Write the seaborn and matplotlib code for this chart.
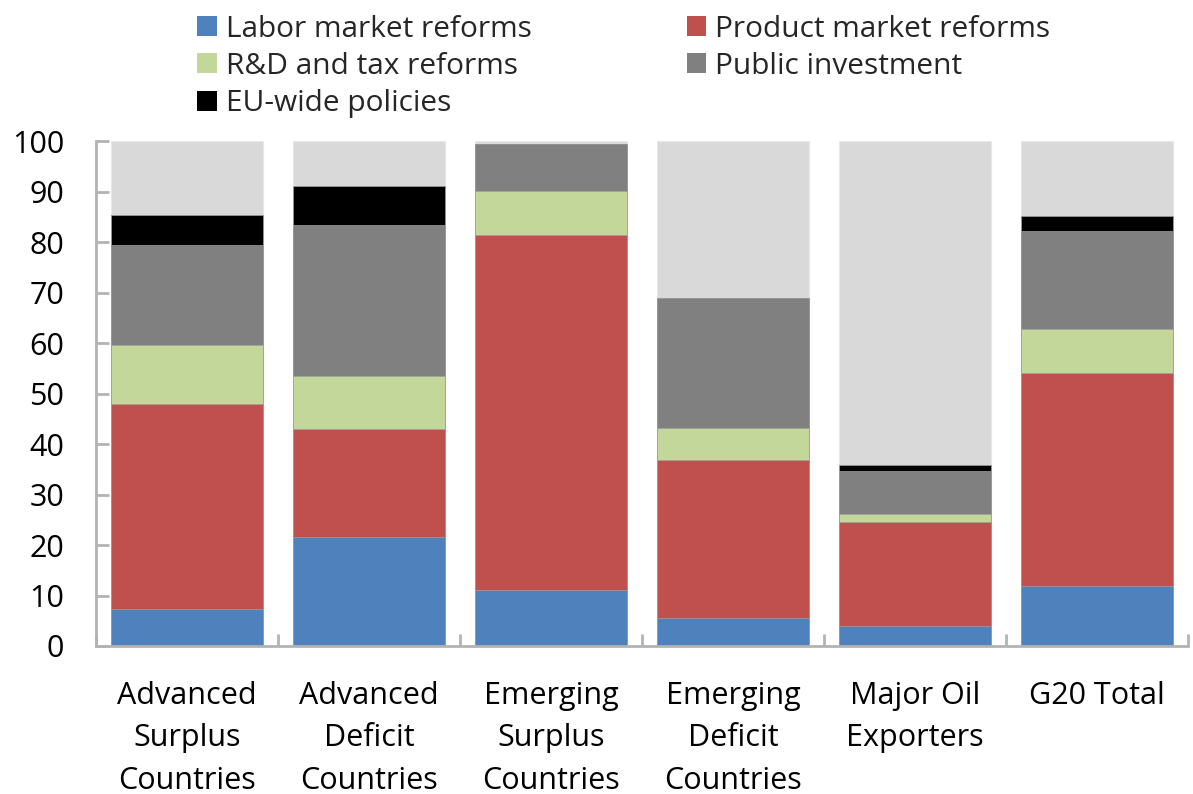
import numpy as np
import seaborn as sns
import matplotlib.pyplot as plt
import matplotlib.patches as patches
from matplotlib.ticker import FixedLocator

categories = ["Advanced\nSurplus\nCountries", "Advanced\nDeficit\nCountries",
              "Emerging\nSurplus\nCountries", "Emerging\nDeficit\nCountries",
              "Major Oil\nExporters", "G20 Total"]

labor   = [7.3, 21.6, 11.0, 5.5, 4.0, 11.8]
product = [40.6, 21.3, 70.4, 31.3, 20.6, 42.2]
rnd     = [11.8, 10.6, 8.7, 6.4, 1.6, 8.8]
public  = [19.8, 29.9, 9.1, 25.8, 8.5, 19.3]
eu      = [5.8, 7.7, 0.3, 0.0, 1.1, 3.0]
total   = [100, 100, 100, 100, 100, 100]

series = ["Labor market reforms", "Product market reforms", "R&D and tax reforms",
          "Public investment", "EU-wide policies"]
colors = ["#4F81BD", "#C0504D", "#C4D79B", "#808080", "#000000"]
rest_color = "#D9D9D9"

sns.set_theme(style="white")
plt.rcParams['font.family'] = ['Open Sans', 'DejaVu Sans']

fig = plt.figure(figsize=(11.93, 7.94), dpi=100)
ax = fig.add_axes([0.0805, 0.1864, 0.9155, 0.636])

# stacked bars: draw cumulative heights from tallest to shortest
stack = np.cumsum(np.array([labor, product, rnd, public, eu]), axis=0)
sns.barplot(x=categories, y=total, color=rest_color, saturation=1, width=0.835,
            edgecolor="#E8E8E8", linewidth=0.8, ax=ax)
for i in range(len(series) - 1, -1, -1):
    sns.barplot(x=categories, y=stack[i], color=colors[i], saturation=1, width=0.835,
                edgecolor="#A0A0A0", linewidth=0.5, ax=ax)

ax.set_xlim(-0.5, 5.5)
ax.set_ylim(0, 100)
ax.set_yticks(range(0, 101, 10))
ax.set_xlabel("")
ax.set_ylabel("")

for s in ["top", "right"]:
    ax.spines[s].set_visible(False)
for s in ["left", "bottom"]:
    ax.spines[s].set_color("#B3B3B3")
    ax.spines[s].set_linewidth(2)

ax.xaxis.set_minor_locator(FixedLocator(np.arange(-0.5, 6, 1)))
ax.tick_params(axis="x", which="major", length=0, pad=25, labelsize=22, colors="black")
ax.tick_params(axis="x", which="minor", direction="in", length=9, width=2, color="#B3B3B3", bottom=True)
ax.tick_params(axis="y", direction="in", length=9, width=2, color="#B3B3B3", left=True,
               labelsize=22, labelcolor="black", pad=23)
plt.setp(ax.get_xticklabels(), linespacing=1.55)

handles = [patches.Rectangle((0, 0), 1, 1, facecolor=c, edgecolor="none") for c in colors]
order = [0, 2, 4, 1, 3]
fig.legend([handles[i] for i in order], [series[i] for i in order], ncol=2,
           loc="upper left", bbox_to_anchor=(0.148, 1.008), frameon=False, fontsize=21.5,
           handlelength=0.65, handleheight=0.65, handletextpad=0.3, labelspacing=0.28,
           columnspacing=5.2, borderpad=0.2)

plt.savefig("out.png", dpi=100)
